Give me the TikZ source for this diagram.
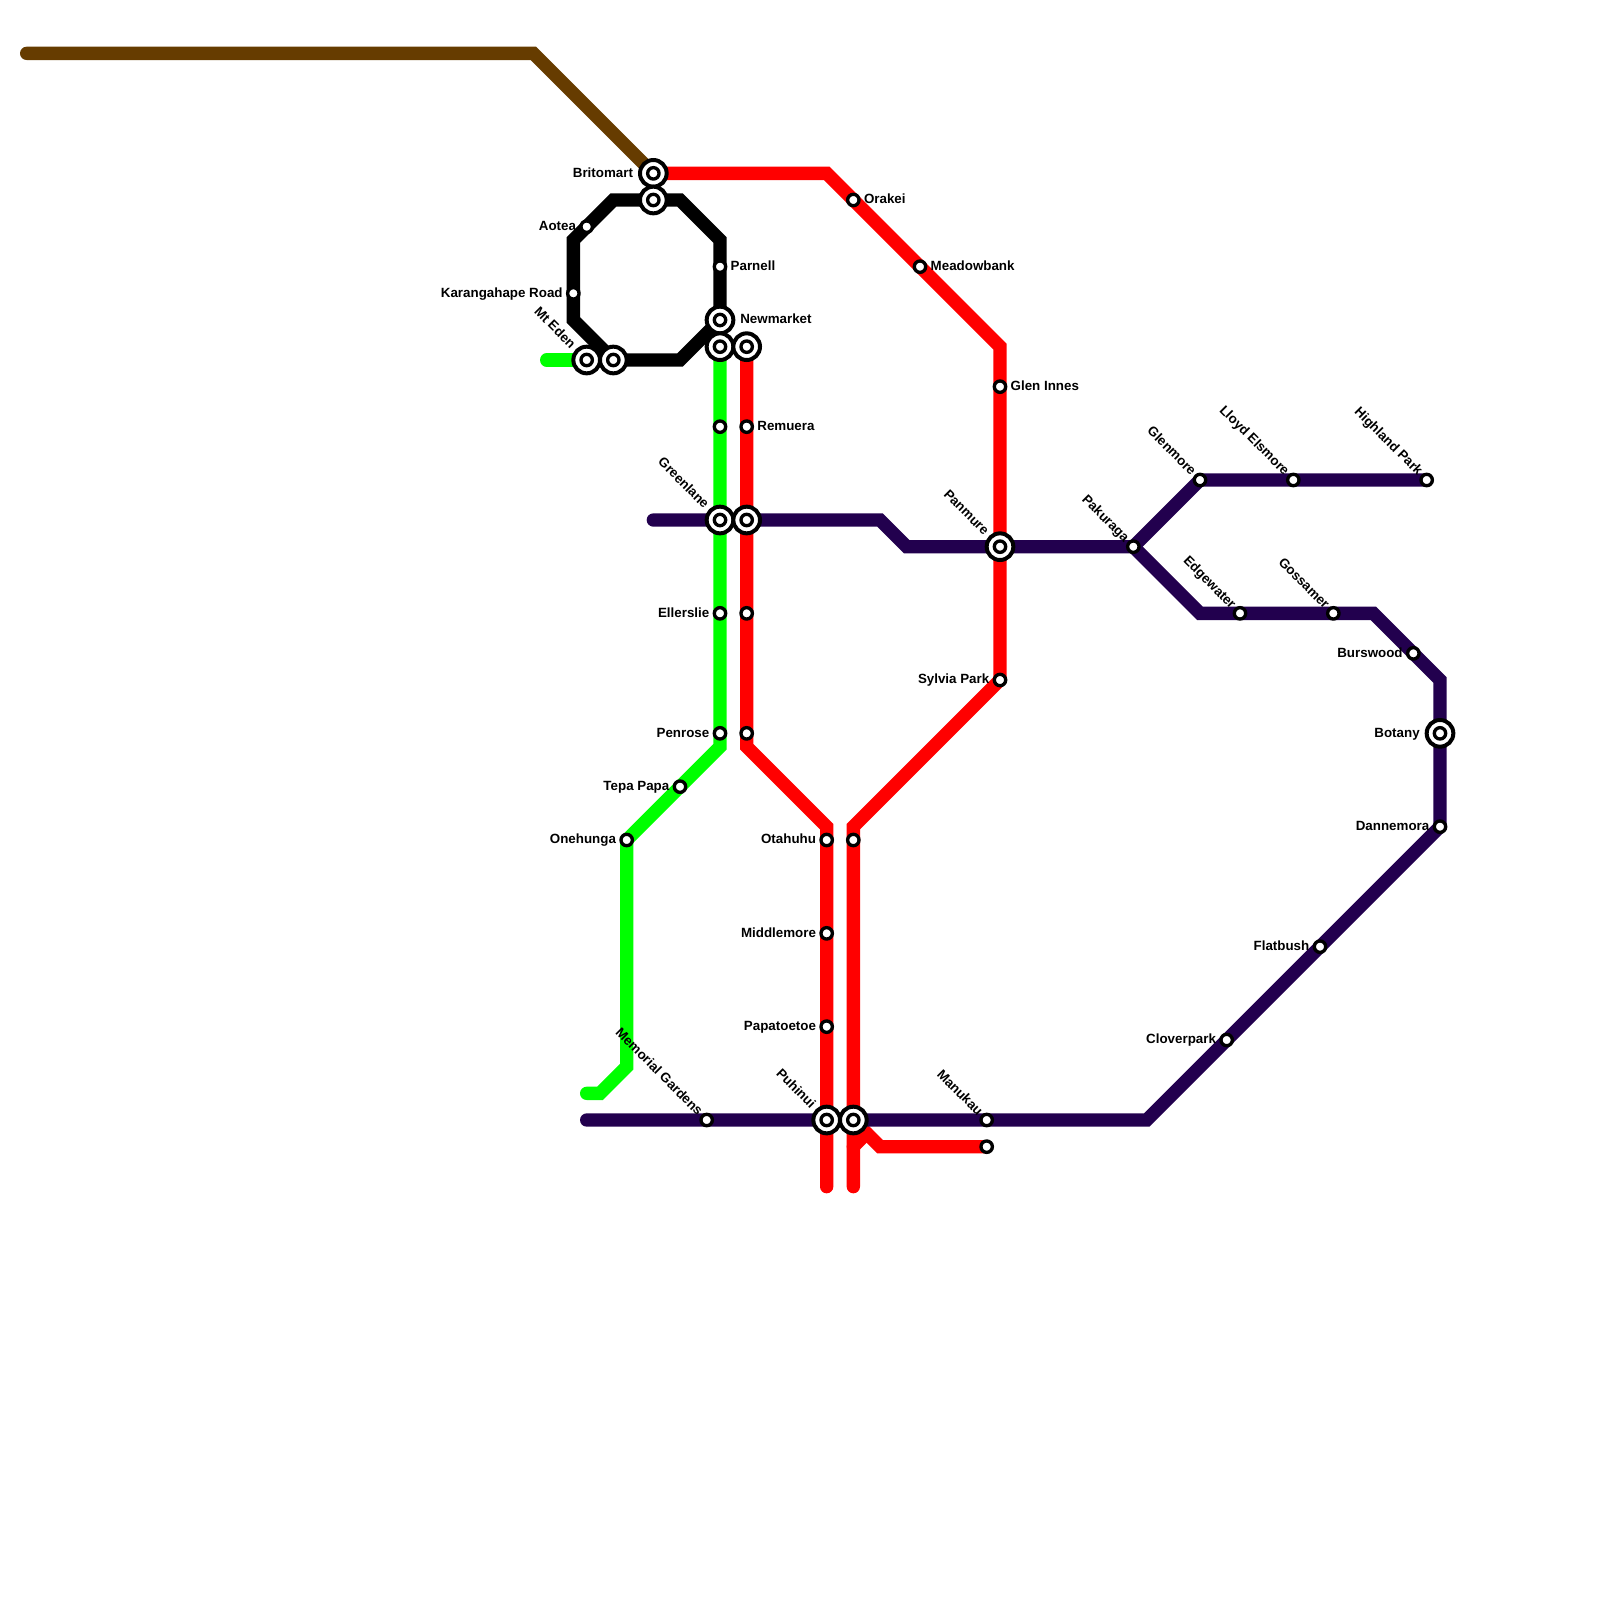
\documentclass[tikz,border=0pt]{standalone}
\usepackage{fontspec}
\setmainfont{Liberation Sans}
\usepackage{tikz}
\usetikzlibrary{positioning,backgrounds}
\definecolor{brownline}{RGB}{102,60,0}
\definecolor{purpleline}{RGB}{34,0,78}
\tikzset{
  mline/.style={line width=0.4cm,line cap=round,line join=miter},
  stn/.style={circle,draw=black,fill=white,line width=0.1cm,minimum size=0.342cm,inner sep=0pt},
  stnx/.style={circle,draw=black,fill=white,line width=0.12cm,minimum size=0.8cm,inner sep=0pt,
    path picture={\draw[line width=0.1cm,fill=white] (path picture bounding box.center) circle (0.171cm);}},
  lbl/.style={font=\bfseries\fontsize{11.4pt}{14pt}\selectfont,inner sep=0pt,outer sep=0pt,text height=1.5ex,text depth=0.25ex},
  diag/.style={lbl,shift={(-0.2cm,0.2cm)},rotate=-45,anchor=east},
  diagx/.style={lbl,shift={(-0.41cm,0.41cm)},rotate=-45,anchor=east}
}
\begin{document}
\begin{tikzpicture}[x=0.4cm,y=-0.4cm,node distance=0.1cm]
\useasboundingbox (0,0) rectangle (120,120);
% interchanges
\node[stnx] (britomart) at (49,13) {};
\node[stnx] (britomartb) at (49,15) {};
\node[stnx] (newmarket) at (54,24) {};
\node[stnx] (newmarketb) at (54,26) {};
\node[stnx] (newmarketc) at (56,26) {};
\node[stnx] (mteden) at (44,27) {};
\node[stnx] (mtedenb) at (46,27) {};
\node[stnx] (greenlane) at (54,39) {};
\node[stnx] (greenlaneb) at (56,39) {};
\node[stnx] (panmure) at (75,41) {};
\node[stnx] (botany) at (108,55) {};
\node[stnx] (puhinui) at (62,84) {};
\node[stnx] (puhinuib) at (64,84) {};
% stations
\node[stn] (aotea) at (44,17) {};
\node[stn] (karangahape) at (43,22) {};
\node[stn] (parnell) at (54,20) {};
\node[stn] (orakei) at (64,15) {};
\node[stn] (meadowbank) at (69,20) {};
\node[stn] (gleninnes) at (75,29) {};
\node[stn] (sylviapark) at (75,51) {};
\node[stn] (remuera) at (56,32) {};
\node[stn] (remuerab) at (54,32) {};
\node[stn] (ellerslie) at (54,46) {};
\node[stn] (ellersliec) at (56,46) {};
\node[stn] (penrose) at (54,55) {};
\node[stn] (penrosec) at (56,55) {};
\node[stn] (tepapapa) at (51,59) {};
\node[stn] (onehunga) at (47,63) {};
\node[stn] (otahuhu) at (62,63) {};
\node[stn] (otahuhub) at (64,63) {};
\node[stn] (middlemore) at (62,70) {};
\node[stn] (papatoetoe) at (62,77) {};
\node[stn] (memorial) at (53,84) {};
\node[stn] (manukau) at (74,84) {};
\node[stn] (manukaub) at (74,86) {};
\node[stn] (pakuraga) at (85,41) {};
\node[stn] (glenmore) at (90,36) {};
\node[stn] (lloyd) at (97,36) {};
\node[stn] (highland) at (107,36) {};
\node[stn] (edgewater) at (93,46) {};
\node[stn] (gossamer) at (100,46) {};
\node[stn] (burswood) at (106,49) {};
\node[stn] (dannemora) at (108,62) {};
\node[stn] (flatbush) at (99,71) {};
\node[stn] (cloverpark) at (92,78) {};
% bends and line ends
\coordinate (brA) at (2,4);
\coordinate (brB) at (40,4);
\coordinate (blA) at (46,15);
\coordinate (blB) at (43,18);
\coordinate (blC) at (43,24);
\coordinate (blD) at (51,15);
\coordinate (blE) at (54,18);
\coordinate (blF) at (51,27);
\coordinate (grA) at (41,27);
\coordinate (grB) at (54,56);
\coordinate (grC) at (47,80);
\coordinate (grD) at (45,82);
\coordinate (grE) at (44,82);
\coordinate (reA) at (62,13);
\coordinate (reB) at (75,26);
\coordinate (reC) at (64,62);
\coordinate (reD) at (64,89);
\coordinate (reE) at (56,56);
\coordinate (reF) at (62,62);
\coordinate (reG) at (62,89);
\coordinate (reH) at (66,86);
\coordinate (reI) at (64,86);
\coordinate (reJ) at (65,85);
\coordinate (puA) at (49,39);
\coordinate (puB) at (66,39);
\coordinate (puC) at (68,41);
\coordinate (puD) at (90,46);
\coordinate (puE) at (103,46);
\coordinate (puF) at (108,51);
\coordinate (puG) at (86,84);
\coordinate (puH) at (44,84);
% lines
\begin{scope}[on background layer]
\draw[mline,brownline] (brA) -- (brB) -- (britomart.center);
\draw[mline,black] (mtedenb.center) -- (blC) -- (blB) -- (blA) -- (blD) -- (blE) -- (newmarket.center) -- (blF) -- (mtedenb.center);
\draw[mline,green] (grA) -- (mteden.center);
\draw[mline,green] (newmarketb.center) -- (grB) -- (onehunga.center) -- (grC) -- (grD) -- (grE);
\draw[mline,red] (britomart.center) -- (reA) -- (reB) -- (sylviapark.center) -- (reC) -- (reD);
\draw[mline,red] (newmarketc.center) -- (reE) -- (reF) -- (reG);
\draw[mline,red] (puhinuib.center) -- (reH) -- (manukaub.center);
\draw[mline,red] (reI) -- (reJ);
\draw[mline,purpleline] (puA) -- (puB) -- (puC) -- (pakuraga.center) -- (glenmore.center) -- (highland.center);
\draw[mline,purpleline] (pakuraga.center) -- (puD) -- (puE) -- (puF) -- (dannemora.center) -- (puG) -- (puH);
\end{scope}
% labels
\node[lbl,left=0.15cm of britomart] (britomartt) {Britomart};
\node[lbl,left=of aotea] (aoteat) {Aotea};
\node[lbl,left=of karangahape] (karangahapet) {Karangahape Road};
\node[lbl,right=of parnell] (parnellt) {Parnell};
\node[lbl,right=0.15cm of newmarket] (newmarkett) {Newmarket};
\node[lbl,right=of orakei] (orakeit) {Orakei};
\node[lbl,right=of meadowbank] (meadowbankt) {Meadowbank};
\node[lbl,right=of gleninnes] (gleninnest) {Glen Innes};
\node[lbl,left=of sylviapark] (sylviaparkt) {Sylvia Park};
\node[lbl,right=of remuera] (remuerat) {Remuera};
\node[lbl,left=of ellerslie] (ellersliet) {Ellerslie};
\node[lbl,left=of penrose] (penroset) {Penrose};
\node[lbl,left=of tepapapa] (tepapapat) {Tepa Papa};
\node[lbl,left=of onehunga] (onehungat) {Onehunga};
\node[lbl,left=of otahuhu] (otahuhut) {Otahuhu};
\node[lbl,left=of middlemore] (middlemoret) {Middlemore};
\node[lbl,left=of papatoetoe] (papatoetoet) {Papatoetoe};
\node[lbl,left=of burswood] (burswoodt) {Burswood};
\node[lbl,left=0.15cm of botany] (botanyt) {Botany};
\node[lbl,left=of dannemora] (dannemorat) {Dannemora};
\node[lbl,left=of flatbush] (flatbusht) {Flatbush};
\node[lbl,left=of cloverpark] (cloverparkt) {Cloverpark};
\node[diagx] (mtedent) at (mteden) {Mt Eden};
\node[diagx] (greenlanet) at (greenlane) {Greenlane};
\node[diagx] (panmuret) at (panmure) {Panmure};
\node[diagx] (puhinuit) at (puhinui) {Puhinui};
\node[diag] (memorialt) at (memorial) {Memorial Gardens};
\node[diag] (manukaut) at (manukau) {Manukau};
\node[diag] (pakuragat) at (pakuraga) {Pakuraga};
\node[diag] (glenmoret) at (glenmore) {Glenmore};
\node[diag] (lloydt) at (lloyd) {Lloyd Elsmore};
\node[diag] (highlandt) at (highland) {Highland Park};
\node[diag] (edgewatert) at (edgewater) {Edgewater};
\node[diag] (gossamert) at (gossamer) {Gossamer};
\end{tikzpicture}
\end{document}
